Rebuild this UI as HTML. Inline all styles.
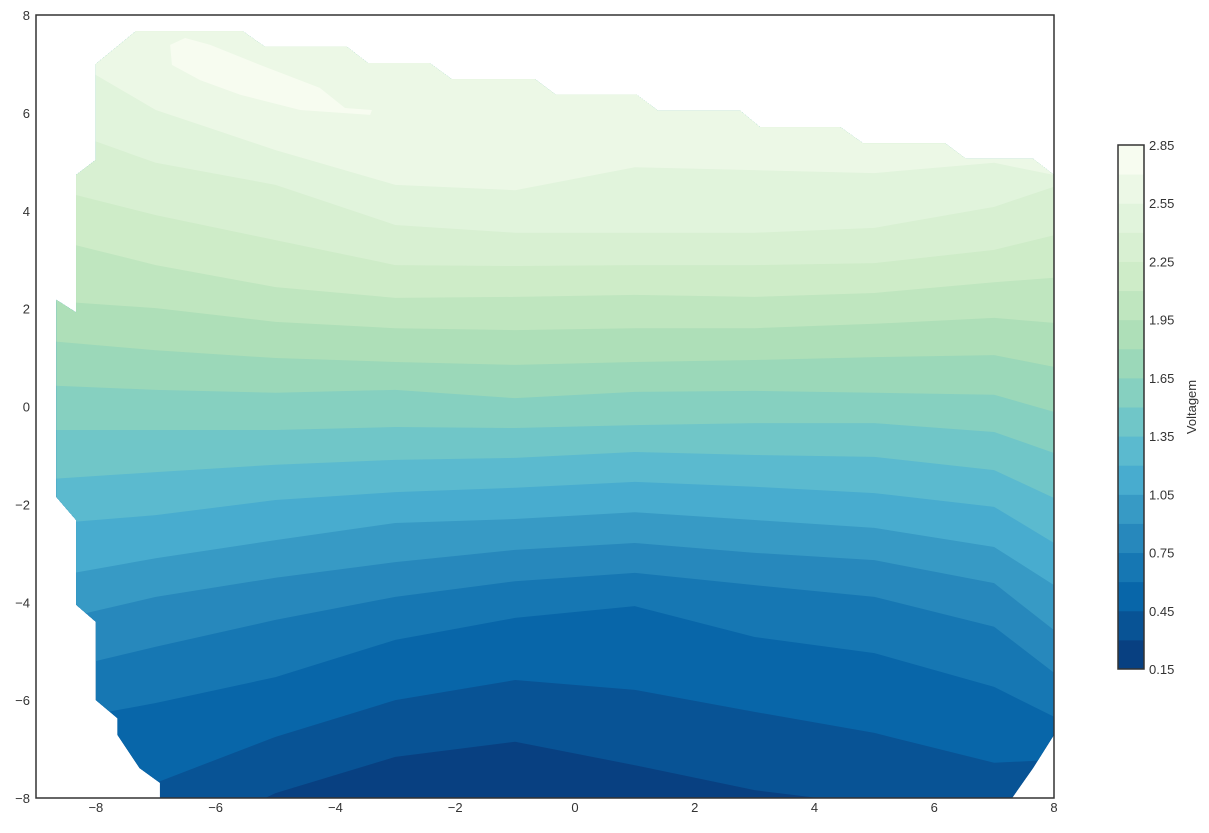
<!DOCTYPE html>
<html><head><meta charset="utf-8"><style>
html,body{margin:0;padding:0;background:#fff;}
svg text{font-family:"Liberation Sans","DejaVu Sans",sans-serif;fill:#333;}
</style></head><body>
<svg id="chart" width="1209" height="828" viewBox="0 0 1209 828" xmlns="http://www.w3.org/2000/svg">
<defs><clipPath id="plotclip"><rect x="36" y="15" width="1018" height="783"/></clipPath><clipPath id="hullclip"><polygon id="hullpoly" points=""/></clipPath></defs>
<g id="bands" clip-path="url(#plotclip)"><g id="bandsinner" clip-path="url(#hullclip)"></g></g>
<rect x="36" y="15" width="1018" height="783" fill="none" stroke="#333" stroke-width="1.5"/>
<g id="xticks"></g><g id="yticks"></g>
<g id="colorbar"></g>
<text transform="translate(1196,407) rotate(-90)" text-anchor="middle" font-size="13">Voltagem</text>
</svg>
<script>
const xCols = [-9,-7,-5,-3,-1,1,3,5,7,8];
const levels = [0.30,0.45,0.60,0.75,0.90,1.05,1.20,1.35,1.50,1.65,1.80,1.95,2.10,2.25,2.40,2.55];
const b030 = [-9.06,-9.06,-7.90,-7.16,-6.85,-7.33,-7.84,-8.14,-8.65,-8.85];
const b045 = [-7.84,-7.69,-6.75,-6.00,-5.59,-5.79,-6.24,-6.67,-7.28,-7.22];
const b060 = [-6.51,-6.06,-5.53,-4.77,-4.32,-4.08,-4.71,-5.04,-5.73,-6.34];
const b075 = [-5.49,-4.91,-4.36,-3.89,-3.57,-3.40,-3.65,-3.89,-4.50,-5.44];
const b090 = [-4.46,-3.89,-3.50,-3.18,-2.93,-2.79,-2.99,-3.14,-3.61,-4.57];
const b105 = [-3.54,-3.10,-2.73,-2.38,-2.30,-2.16,-2.32,-2.48,-2.87,-3.65];
const b120 = [-2.42,-2.22,-1.91,-1.75,-1.66,-1.54,-1.64,-1.77,-2.05,-2.79];
const b135 = [-1.50,-1.34,-1.19,-1.09,-1.05,-0.93,-0.99,-1.03,-1.30,-1.87];
const b150 = [-0.48,-0.48,-0.48,-0.42,-0.44,-0.38,-0.34,-0.34,-0.52,-0.95];
const b165 = [0.44,0.34,0.28,0.34,0.17,0.30,0.32,0.28,0.24,-0.11];
const b180 = [1.36,1.15,0.99,0.91,0.85,0.91,0.95,1.01,1.05,0.81];
const b195 = [2.18,2.01,1.73,1.60,1.56,1.60,1.60,1.69,1.81,1.71];
const b210 = [3.50,2.89,2.44,2.22,2.24,2.28,2.24,2.32,2.54,2.63];
const b225 = [4.53,3.91,3.40,2.89,2.87,2.89,2.89,2.93,3.20,3.50];
const b240 = [5.85,4.98,4.53,3.71,3.55,3.55,3.55,3.65,4.08,4.49];
const b255 = [7.49,6.06,5.24,4.53,4.42,4.89,4.83,4.77,4.98,4.73];
const boundaries = [b030,b045,b060,b075,b090,b105,b120,b135,b150,b165,b180,b195,b210,b225,b240,b255];
const blobX = [-6.76,-6.51,-6.09,-5.26,-4.26,-3.84,-3.39,-3.42,-4.59,-5.59,-6.26,-6.73];
const blobY = [7.39,7.53,7.39,6.98,6.51,6.10,6.06,5.96,6.06,6.37,6.67,6.98];
const hullX = [-8,-7.33,-5.55,-5.18,-3.81,-3.46,-2.43,-2.06,-0.67,-0.32,1.03,1.39,2.76,3.09,4.43,4.81,6.18,6.53,7.65,8,8,7.65,7.30,-6.93,-6.93,-7.27,-7.27,-7.64,-7.64,-8,-8,-8.33,-8.33,-8.66,-8.66,-8.33,-8.33,-8];
const hullY = [7,7.67,7.67,7.35,7.35,7.02,7.02,6.69,6.69,6.37,6.37,6.04,6.04,5.71,5.71,5.38,5.38,5.06,5.06,4.73,-6.71,-7.39,-8,-8,-7.69,-7.39,-7.39,-6.71,-6.37,-6.0,-4.4,-4.05,-2.32,-1.85,2.18,1.92,4.73,5.04];
const xTicks = [-8,-6,-4,-2,0,2,4,6,8];
const yTicks = [-8,-6,-4,-2,0,2,4,6,8];
const cbTicks = [0.15,0.45,0.75,1.05,1.35,1.65,1.95,2.25,2.55,2.85];
const vmin = 0.15, vmax = 2.85, nBands = 18;

const sx = x => 36 + (x + 9) * (1018 / 17);
const sy = y => 15 + (8 - y) * (783 / 16);
const NS = 'http://www.w3.org/2000/svg';
const gnbu = ['#084081','#0868ac','#2b8cbe','#4eb3d3','#7bccc4','#a8ddb5','#ccebc5','#e0f3db','#f7fcf0'];
function hex(c){return [1,3,5].map(i=>parseInt(c.substr(i,2),16));}
function cmap(t){const p=t*(gnbu.length-1);const i=Math.min(Math.floor(p),gnbu.length-2);const f=p-i;const a=hex(gnbu[i]),b=hex(gnbu[i+1]);return 'rgb('+a.map((v,k)=>Math.round(v+(b[k]-v)*f)).join(',')+')';}
const bandColor = i => cmap(i/(nBands-1));

document.getElementById('hullpoly').setAttribute('points', hullX.map((x,i)=>sx(x)+','+sy(hullY[i])).join(' '));
const g = document.getElementById('bandsinner');
function mk(tag, attrs){const e=document.createElementNS(NS,tag);for(const k in attrs)e.setAttribute(k,attrs[k]);return e;}
let base = mk('rect',{x:0,y:0,width:1209,height:828,fill:bandColor(0)});


g.appendChild(base);
boundaries.forEach((bd,k)=>{
  let pts = xCols.map((x,i)=>sx(x)+','+sy(bd[i]));
  pts.push(sx(8)+20+','+sy(bd[bd.length-1]), sx(8)+20+',0', (sx(-9)-20)+',0', (sx(-9)-20)+','+sy(bd[0]));
  const p = mk('polygon',{points:pts.join(' '),fill:bandColor(k+1)});
  
  
  g.appendChild(p);
});
const blob = mk('polygon',{points:blobX.map((x,i)=>sx(x)+','+sy(blobY[i])).join(' '),fill:bandColor(17)});


g.appendChild(blob);

const fmt = v => (v<0?'\u2212':'')+Math.abs(v);
const xt = document.getElementById('xticks');
xTicks.forEach(v=>{
  const t = mk('text',{x:sx(v),y:812,'text-anchor':'middle','font-size':13});
  
  
  t.textContent = fmt(v); xt.appendChild(t);
});
const yt = document.getElementById('yticks');
yTicks.forEach(v=>{
  const t = mk('text',{x:30,y:sy(v)+5,'text-anchor':'end','font-size':13});
  
  
  t.textContent = fmt(v); yt.appendChild(t);
});
const cb = document.getElementById('colorbar');
const cbTop=145, cbBot=669, cbX=1118, cbW=26;
const cy = v => cbBot - (v - vmin)/(vmax - vmin)*(cbBot - cbTop);
for(let i=0;i<nBands;i++){
  const lo = vmin + i*(vmax-vmin)/nBands, hi = vmin + (i+1)*(vmax-vmin)/nBands;
  const r = mk('rect',{x:cbX,y:cy(hi),width:cbW,height:cy(lo)-cy(hi)+0.5,fill:bandColor(i)});
  
  
  cb.appendChild(r);
}
const fr = mk('rect',{x:cbX,y:cbTop,width:cbW,height:cbBot-cbTop,fill:'none',stroke:'#333','stroke-width':1.5});


cb.appendChild(fr);
cbTicks.forEach(v=>{
  const t = mk('text',{x:1149,y:cy(v)+5,'font-size':13});
  
  
  t.textContent = v.toFixed(2); cb.appendChild(t);
});
</script>
</body></html>
